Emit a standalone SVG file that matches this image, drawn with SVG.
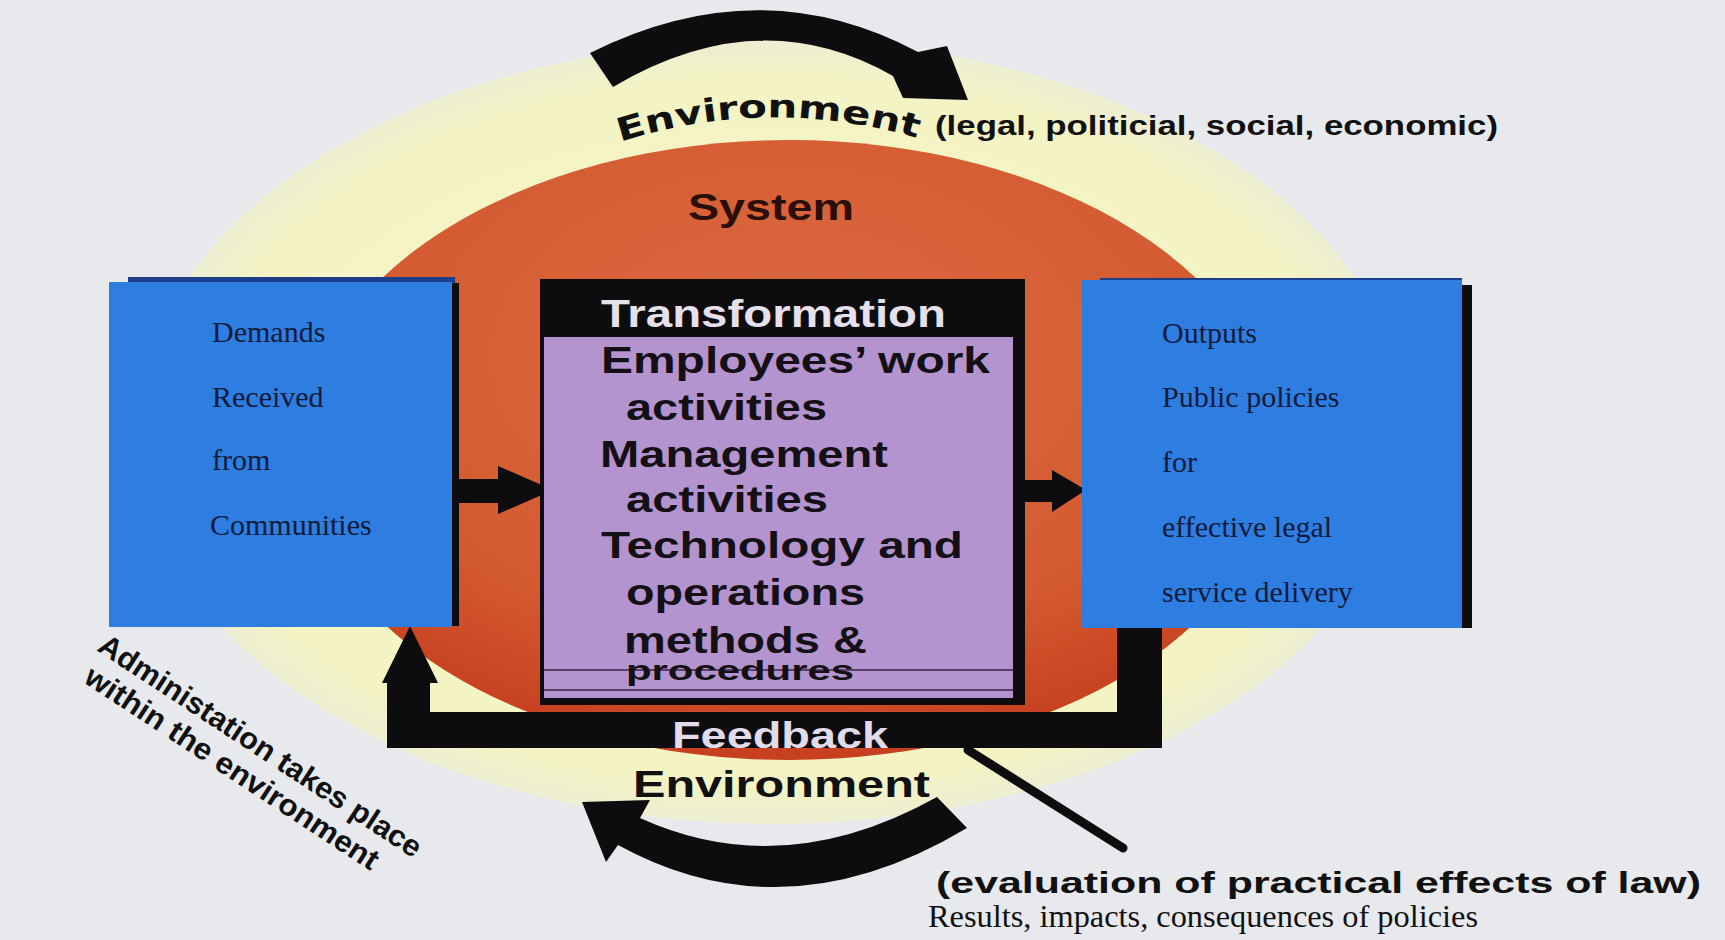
<svg xmlns="http://www.w3.org/2000/svg" width="1725" height="940" viewBox="0 0 1725 940">
<defs>
<style>
.bold{font-family:"Liberation Sans",Arial,sans-serif;font-weight:bold}
.serif{font-family:"Liberation Serif","Times New Roman",serif;font-size:30px;fill:#111a3a}
.ctr{font-size:36px;fill:#141016}
.blk{fill:#0d0d10}
.box{fill:#2d7ee0}
</style>
<radialGradient id="yel" cx="0.5" cy="0.5" r="0.5">
<stop offset="0" stop-color="#f5f5c9"/>
<stop offset="0.9" stop-color="#f3f3c4"/>
<stop offset="1" stop-color="#eeeed2"/>
</radialGradient>
<radialGradient id="red" cx="0.5" cy="0.35" r="0.65">
<stop offset="0" stop-color="#dc6a42"/>
<stop offset="0.7" stop-color="#d45a30"/>
<stop offset="1" stop-color="#c63f1f"/>
</radialGradient>
<path id="envArc" d="M620,142 Q770,94 924,140"/>
</defs>
<rect x="0" y="0" width="1725" height="940" fill="#e8e9ed"/>
<g id="environment">
<ellipse cx="772" cy="432" rx="635" ry="392" fill="url(#yel)"/>
</g>
<g id="system">
<ellipse cx="789" cy="450" rx="489" ry="310" fill="url(#red)"/>
</g>
<g id="connectors">
<path class="blk" d="M590,53 Q760,-32 918,52 L947,46 L968,100 L903,98 L893,76 Q760,0 613,87 Z"/>
<path class="blk" d="M937,797 Q783,883 640,818 L650,800 L582,802 L606,862 L618,845 Q785,937 967,828 Z"/>
<polygon class="blk" points="387,748 1162,748 1162,628 1117,628 1117,712 430,712 430,683 438,683 410,626 382,683 387,683"/>
<polygon class="blk" points="452,479 498,479 498,466 553,490 498,514 498,503 452,503"/>
<polygon class="blk" points="1018,480 1052,480 1052,470 1086,490 1052,512 1052,502 1018,502"/>
<line x1="968" y1="750" x2="1123" y2="848" stroke="#0d0d10" stroke-width="9" stroke-linecap="round"/>
</g>
<g id="inputs">
<rect x="128" y="277" width="327" height="8" fill="#1b3f8a"/>
<rect x="452" y="283" width="7" height="343" class="blk"/>
<rect x="109" y="282" width="343" height="345" class="box"/>
<text class="serif" x="212" y="342">Demands</text>
<text class="serif" x="212" y="407">Received</text>
<text class="serif" x="212" y="470">from</text>
<text class="serif" x="210" y="535">Communities</text>
</g>
<g id="transformation">
<rect x="540" y="279" width="485" height="426" class="blk"/>
<rect x="544" y="337" width="469" height="361" fill="#b394cf"/>
<line x1="544" y1="670" x2="1013" y2="670" stroke="#3a2448" stroke-width="1.5"/>
<line x1="544" y1="690" x2="1013" y2="690" stroke="#3a2448" stroke-width="1.5"/>
<text class="bold" x="601" y="327" font-size="38" fill="#e6e0ea" textLength="345" lengthAdjust="spacingAndGlyphs">Transformation</text>
<text class="bold ctr" x="601" y="373" textLength="389" lengthAdjust="spacingAndGlyphs">Employees’ work</text>
<text class="bold ctr" x="626" y="420" textLength="201" lengthAdjust="spacingAndGlyphs">activities</text>
<text class="bold ctr" x="600" y="467" textLength="288" lengthAdjust="spacingAndGlyphs">Management</text>
<text class="bold ctr" x="626" y="512" textLength="202" lengthAdjust="spacingAndGlyphs">activities</text>
<text class="bold ctr" x="601" y="558" textLength="362" lengthAdjust="spacingAndGlyphs">Technology and</text>
<text class="bold ctr" x="626" y="605" textLength="239" lengthAdjust="spacingAndGlyphs">operations</text>
<text class="bold ctr" x="624" y="653" textLength="243" lengthAdjust="spacingAndGlyphs">methods &amp;</text>
<text class="bold" x="626" y="680" font-size="27" fill="#141016" textLength="228" lengthAdjust="spacingAndGlyphs">procedures</text>
</g>
<g id="outputs">
<rect x="1100" y="278" width="362" height="5" fill="#1b3f8a"/>
<rect x="1462" y="285" width="10" height="343" class="blk"/>
<rect x="1082" y="280" width="380" height="348" class="box"/>
<text class="serif" x="1162" y="343">Outputs</text>
<text class="serif" x="1162" y="407">Public policies</text>
<text class="serif" x="1162" y="472">for</text>
<text class="serif" x="1162" y="537">effective legal</text>
<text class="serif" x="1162" y="602">service delivery</text>
</g>
<g id="labels">
<text font-family="'DejaVu Sans',Verdana,sans-serif" font-weight="bold" font-size="32" fill="#111"><textPath href="#envArc" textLength="302" lengthAdjust="spacingAndGlyphs">Environment</textPath></text>
<text class="bold" x="935" y="135" font-size="27" fill="#111" textLength="563" lengthAdjust="spacingAndGlyphs">(legal, politicial, social, economic)</text>
<text class="bold" x="688" y="220" font-size="36" fill="#2a0e0a" textLength="166" lengthAdjust="spacingAndGlyphs">System</text>
<text class="bold" x="672" y="748" font-size="36" fill="#e2dcea" textLength="216" lengthAdjust="spacingAndGlyphs">Feedback</text>
<text class="bold" x="633" y="797" font-size="37" fill="#111" textLength="297" lengthAdjust="spacingAndGlyphs">Environment</text>
<text class="bold" x="936" y="893" font-size="30" fill="#111" textLength="765" lengthAdjust="spacingAndGlyphs">(evaluation of practical effects of law)</text>
<text x="928" y="927" font-family="'Liberation Serif','Times New Roman',serif" font-size="32" fill="#111" textLength="550" lengthAdjust="spacingAndGlyphs">Results, impacts, consequences of policies</text>
<g transform="translate(96,650) rotate(33.3)">
<text class="bold" x="0" y="0" font-size="30" fill="#111" textLength="380" lengthAdjust="spacingAndGlyphs">Administation takes place</text>
<text class="bold" x="6" y="34" font-size="30" fill="#111" textLength="345" lengthAdjust="spacingAndGlyphs">within the environment</text>
</g>
</g>
</svg>
